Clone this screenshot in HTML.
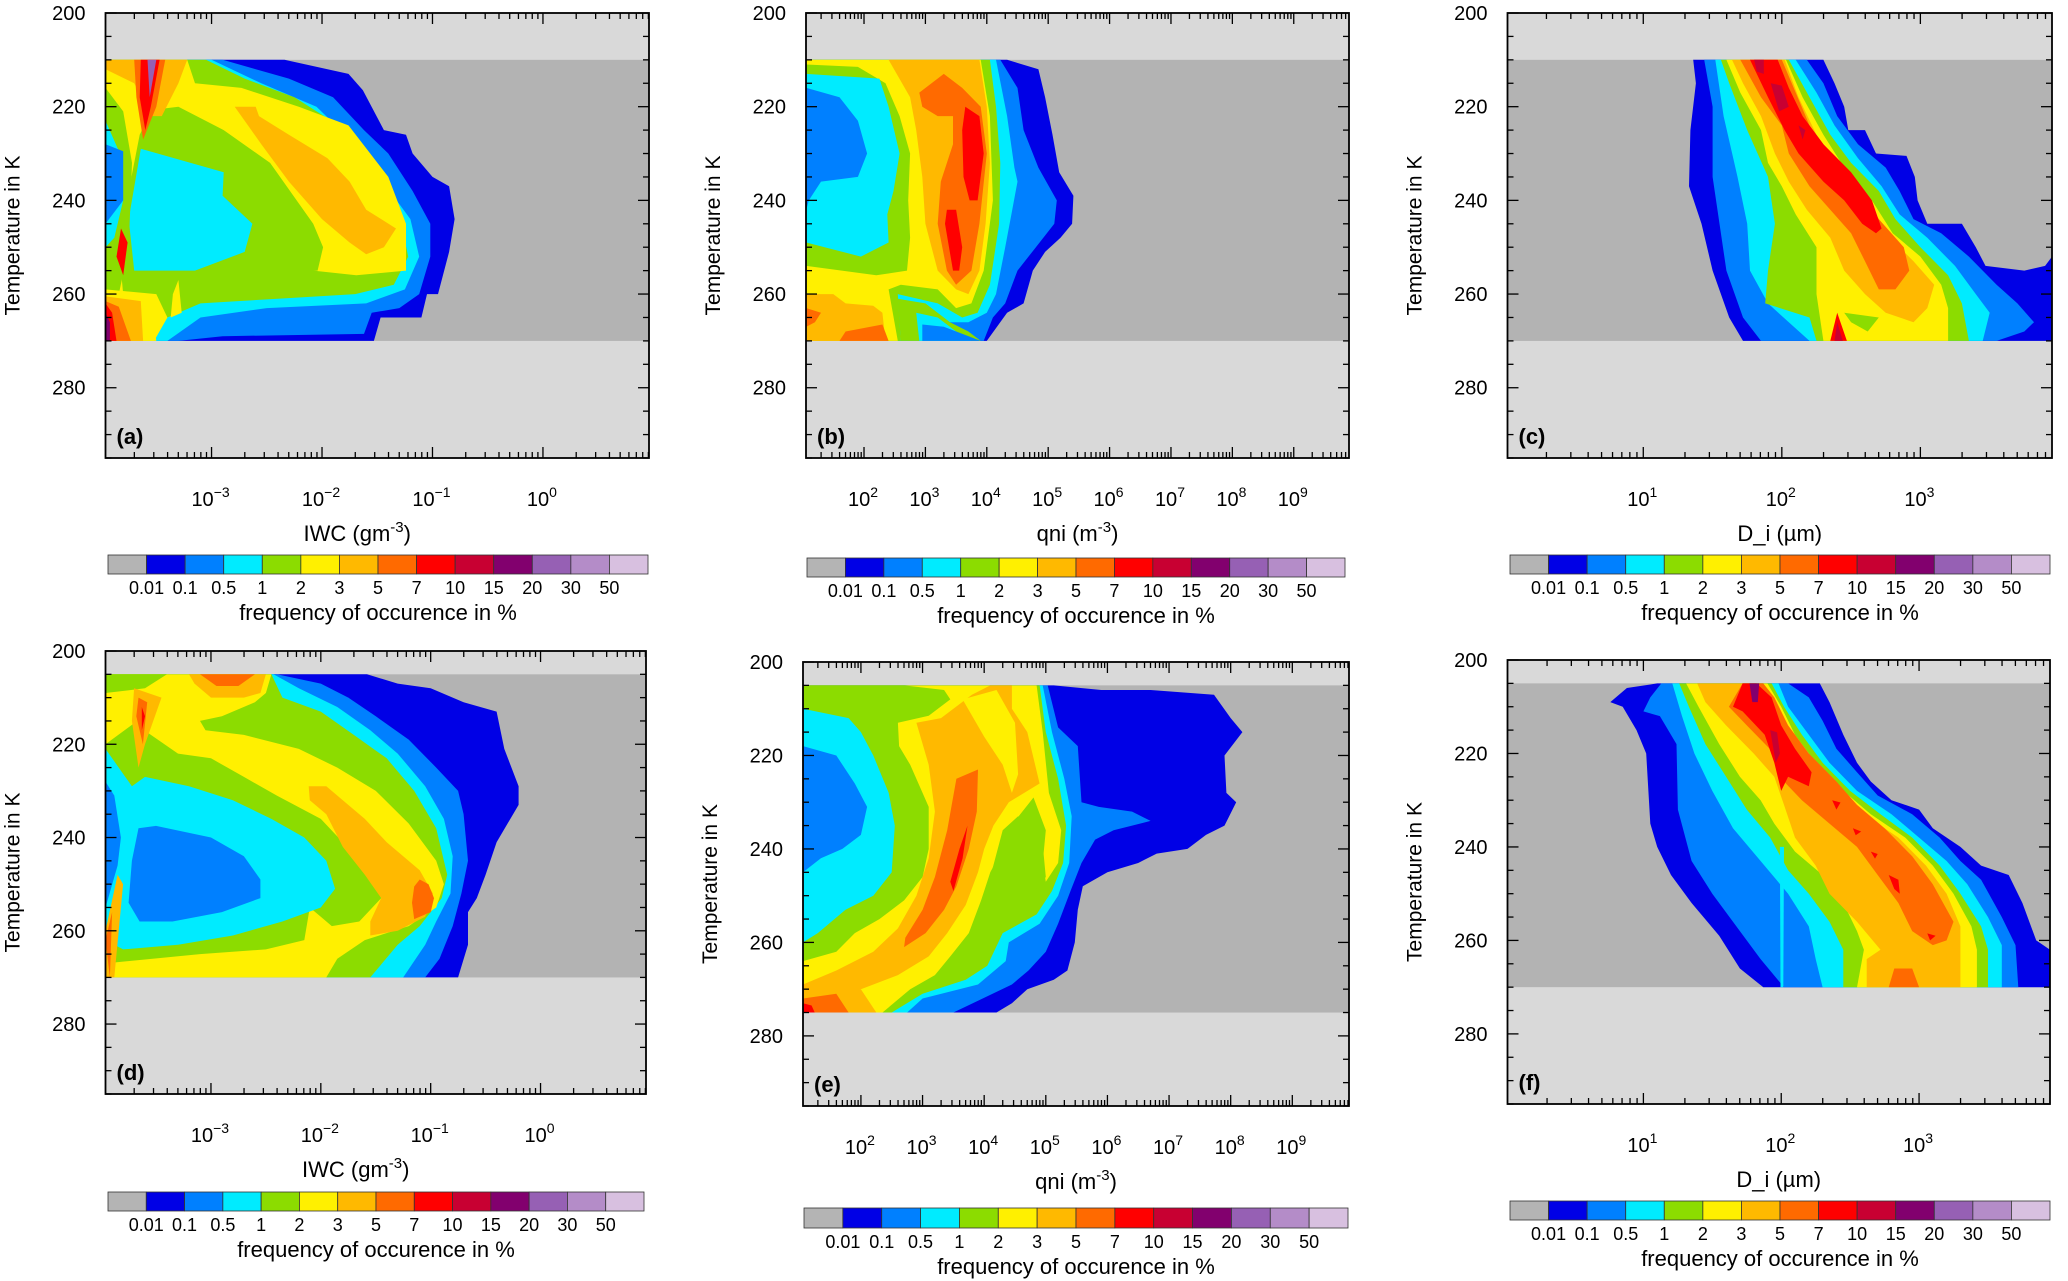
<!DOCTYPE html>
<html><head><meta charset="utf-8"><style>
html,body{margin:0;padding:0;background:#fff;}
svg{display:block;font-family:"Liberation Sans",Arial,sans-serif;}
</style></head><body>
<svg id="chart" width="2068" height="1281" viewBox="0 0 2068 1281" xmlns="http://www.w3.org/2000/svg"><defs id="defs"></defs></svg>
<script>
// ---------- data ----------
const levelColors = ['#b4b4b4','#0000e6','#0080ff','#00ebff','#8cdc00','#fff000','#ffb900','#ff6a00','#ff0000','#c80032','#82006e','#9660b4','#b48cc8','#d8c0e0'];
const levelLabels = ['0.01','0.1','0.5','1','2','3','5','7','10','15','20','30','50'];
const tempTicks = [200,220,240,260,280];
const iwcExps = [-3,-2,-1,0];
const qniExps = [2,3,4,5,6,7,8,9];
const diExps = [1,2,3];

const contoursA = [
 [1,[[-3.96,210],[-2.34,210],[-1.76,213],[-1.63,216.5],[-1.44,225],[-1.24,226],[-1.18,230],[-1.0,235],[-0.85,237],[-0.80,244],[-0.85,251],[-0.95,260],[-1.05,260],[-1.10,265],[-1.47,265],[-1.53,270],[-3.96,270]]],
 [2,[[-3.96,210],[-2.9,210],[-2.3,214],[-1.9,218],[-1.62,225],[-1.4,230],[-1.18,238],[-1.02,245],[-1.02,252],[-1.12,260],[-1.3,263],[-1.55,264],[-1.62,268.5],[-2.9,269],[-3.3,270],[-3.96,270]]],
 [3,[[-3.96,210],[-3.0,210],[-2.55,215],[-2.05,220],[-1.7,228],[-1.45,236],[-1.2,244],[-1.12,252],[-1.25,259],[-1.6,262],[-2.5,263],[-3.1,265],[-3.4,270],[-3.96,270]]],
 [4,[[-3.96,210],[-3.05,210],[-2.7,214],[-2.25,218],[-1.85,224],[-1.55,233],[-1.3,243],[-1.22,252],[-1.35,258],[-1.7,260],[-2.4,261],[-3.1,262],[-3.5,266],[-3.6,270],[-3.96,270]]],
 [5,[[-3.96,210],[-3.22,210],[-3.15,215],[-2.73,216],[-2.21,220],[-1.76,224],[-1.4,235],[-1.24,245],[-1.24,255],[-1.69,256],[-2.08,255],[-2.2,249],[-2.4,243],[-2.75,235],[-3.0,231],[-3.2,227],[-3.4,224],[-3.62,231],[-3.74,237],[-3.84,250],[-3.8,260],[-3.55,262],[-3.5,270],[-3.96,270]]],
 [4,[[-3.54,220.7],[-3.3,220],[-2.89,225],[-2.47,232],[-2.08,245],[-1.99,250],[-2.04,255],[-2.6,256],[-3.0,257.5],[-3.5,259],[-3.8,258],[-3.75,238],[-3.65,226]]],
 [3,[[-3.64,229],[-2.89,234],[-2.9,239],[-2.63,245],[-2.7,251],[-3.15,255],[-3.7,255],[-3.75,244]]],
 [4,[[-3.96,216],[-3.8,221],[-3.72,232],[-3.75,250],[-3.84,260],[-3.96,262]]],
 [3,[[-3.96,223],[-3.83,230],[-3.8,240],[-3.88,248],[-3.96,250]]],
 [2,[[-3.96,228],[-3.8,229.5],[-3.8,240],[-3.96,245]]],
 [6,[[-2.79,220],[-2.6,220],[-2.57,222],[-2.3,226],[-1.95,231],[-1.75,236],[-1.6,242],[-1.33,246],[-1.44,250],[-1.6,251.5],[-1.75,249],[-2.0,244],[-2.3,236],[-2.55,228]]],
 [6,[[-3.96,210],[-3.22,210],[-3.3,215],[-3.45,222],[-3.55,222],[-3.7,215],[-3.96,212]]],
 [7,[[-3.7,210],[-3.42,210],[-3.5,220],[-3.62,227],[-3.68,218]]],
 [8,[[-3.64,210],[-3.47,210],[-3.55,220],[-3.6,225],[-3.65,218]]],
 [11,[[-3.58,210],[-3.5,210],[-3.56,218]]],
 [5,[[-3.96,259],[-3.5,260],[-3.4,265],[-3.52,270],[-3.96,270]]],
 [5,[[-3.35,260],[-3.3,257],[-3.27,264],[-3.37,265]]],
 [8,[[-3.82,246],[-3.76,249],[-3.8,256],[-3.86,252]]],
 [6,[[-3.96,260.5],[-3.64,261.5],[-3.62,270],[-3.96,270]]],
 [7,[[-3.96,261.5],[-3.84,262.7],[-3.73,270],[-3.96,270]]],
 [8,[[-3.96,262],[-3.9,264],[-3.86,270],[-3.96,270]]],
 [10,[[-3.96,264],[-3.92,266],[-3.92,270],[-3.96,270]]]
];
const contoursB = [
 [1,[[1.06,210],[4.33,210],[4.84,212],[4.95,218],[5.07,226],[5.18,234],[5.41,239],[5.39,245],[5.2,248],[4.95,251],[4.75,255],[4.6,262],[4.33,264],[4.0,270],[1.06,270]]],
 [2,[[1.06,210],[4.22,210],[4.5,216],[4.6,225],[4.84,233],[5.14,240],[5.1,245],[4.8,250],[4.5,255],[4.3,262],[4.1,265],[3.95,270],[1.06,270]]],
 [3,[[1.06,210],[4.15,210],[4.33,222],[4.45,233],[4.5,236],[4.4,243],[4.3,250],[4.15,260],[4.0,264],[3.7,266],[2.95,266],[2.9,270],[1.06,270]]],
 [4,[[1.06,210],[4.05,210],[4.15,220],[4.22,232],[4.2,245],[4.05,258],[3.85,264],[3.6,265],[3.2,262],[2.55,260],[2.6,270],[1.06,270]]],
 [5,[[1.06,210],[3.9,210],[4.05,222],[4.1,240],[3.95,255],[3.75,262],[3.5,263],[3.2,259],[2.6,258],[2.4,259],[2.55,270],[1.06,270]]],
 [4,[[1.06,211],[1.9,211.5],[2.35,215],[2.58,222],[2.75,230],[2.72,240],[2.75,248],[2.7,255],[2.2,256],[1.06,254]]],
 [3,[[1.06,213],[2.25,214],[2.4,220],[2.58,230],[2.48,238],[2.38,243],[2.4,249],[1.95,252],[1.06,249]]],
 [2,[[1.06,216],[1.6,218],[1.9,223],[2.05,230],[1.9,235],[1.3,236],[1.1,240],[1.06,242]]],
 [6,[[2.4,210],[3.88,210],[4.0,220],[4.05,232],[3.98,245],[3.88,255],[3.7,260],[3.5,259],[3.2,255],[3.0,245],[2.95,235],[2.85,225],[2.75,218]]],
 [7,[[2.9,217],[3.3,213],[3.6,216],[3.9,220],[4.0,230],[3.88,245],[3.75,255],[3.5,258],[3.35,255],[3.2,245],[3.25,236],[3.45,228],[3.45,222],[3.2,222],[2.95,220]]],
 [8,[[3.65,220],[3.88,222],[3.95,230],[3.85,240],[3.72,240],[3.62,235],[3.6,225]]],
 [8,[[3.35,242],[3.5,242],[3.6,250],[3.55,255],[3.45,255],[3.32,245]]],
 [6,[[1.06,260],[1.5,260],[1.7,262],[2.15,262.5],[2.3,264],[2.35,270],[1.06,270]]],
 [7,[[1.06,263],[1.3,264],[1.2,266],[1.06,267]]],
 [7,[[1.7,268],[2.3,266.5],[2.4,270],[1.6,270]]],
 [4,[[2.55,261],[3.0,262],[3.4,266],[3.7,268],[3.9,270],[2.6,270]]],
 [3,[[2.85,264],[3.2,265],[3.5,268],[3.75,270],[2.9,270]]],
 [2,[[2.95,266.5],[3.3,267],[3.9,270],[2.95,270]]]
];
const contoursC = [
 [1,[[1.36,210],[2.3,210],[2.38,215],[2.45,220],[2.48,225],[2.6,225],[2.68,230],[2.9,230.5],[2.96,235],[2.98,240],[3.05,245],[3.3,245],[3.4,250],[3.47,254],[3.75,255],[3.9,254],[3.95,252],[3.95,270],[1.72,270],[1.62,265],[1.5,255],[1.42,245],[1.33,237],[1.34,225],[1.38,215]]],
 [2,[[1.44,210],[2.18,210],[2.3,215],[2.4,222],[2.55,228],[2.75,233],[2.85,238],[2.95,244],[3.15,247],[3.35,252],[3.55,258],[3.7,262],[3.82,266],[3.75,268],[3.55,270],[1.85,270],[1.72,265],[1.6,255],[1.55,245],[1.5,235],[1.5,220]]],
 [3,[[1.52,210],[2.1,210],[2.25,217],[2.38,224],[2.55,231],[2.72,237],[2.85,243],[3.05,248],[3.25,254],[3.4,260],[3.5,264],[3.45,270],[2.2,270],[2.05,266],[1.9,262],[1.77,255],[1.75,245],[1.68,235],[1.58,222]]],
 [4,[[1.56,210],[2.05,210],[2.2,218],[2.35,226],[2.5,232],[2.7,238],[2.82,244],[3.0,250],[3.2,256],[3.3,262],[3.35,270],[2.25,270],[2.2,265],[1.88,262],[1.9,255],[1.95,245],[1.9,235],[1.75,225],[1.62,215]]],
 [5,[[1.6,210],[2.03,210],[2.15,218],[2.3,226],[2.45,233],[2.65,240],[2.8,247],[3.0,252],[3.15,258],[3.2,263],[3.2,270],[2.3,270],[2.25,260],[2.25,250],[2.1,243],[2.0,237],[1.9,232],[1.85,225],[1.7,217]]],
 [6,[[1.64,210],[2.02,210],[2.12,218],[2.25,226],[2.4,232],[2.6,240],[2.78,248],[2.95,253],[3.1,258],[3.05,263],[2.95,266],[2.75,264],[2.6,260],[2.45,255],[2.35,248],[2.18,242],[2.05,236],[1.95,230],[1.85,222],[1.72,215]]],
 [7,[[1.7,210],[2.0,210],[2.1,217],[2.2,224],[2.35,230],[2.55,237],[2.7,244],[2.88,250],[2.92,255],[2.82,259],[2.7,259],[2.6,253],[2.5,247],[2.35,242],[2.2,237],[2.05,230],[2.0,224],[1.85,218]]],
 [8,[[1.77,210],[1.97,210],[2.05,216],[2.15,222],[2.3,228],[2.5,234],[2.65,240],[2.72,246],[2.68,247],[2.58,245],[2.45,240],[2.3,236],[2.12,230],[2.02,225],[1.9,218]]],
 [9,[[1.8,210],[1.87,210],[1.87,213],[1.82,212.5]]],
 [9,[[1.92,215],[2.0,215.5],[2.05,220],[1.98,221]]],
 [9,[[2.12,224],[2.17,225],[2.15,227]]],
 [4,[[2.45,264],[2.7,265],[2.62,268],[2.5,266]]],
 [8,[[2.35,270],[2.4,264],[2.47,270]]],
 [9,[[2.38,270],[2.4,266],[2.44,270]]]
];
const contoursD = [
 [1,[[-3.96,205],[-1.58,205],[-1.3,207],[-1.0,208],[-0.7,211],[-0.4,213],[-0.33,221],[-0.2,229],[-0.2,233],[-0.4,241],[-0.5,248],[-0.58,253],[-0.66,256],[-0.66,263],[-0.75,270],[-3.96,270]]],
 [2,[[-3.96,205],[-2.4,205],[-2.0,207],[-1.75,210],[-1.5,214],[-1.2,219],[-0.95,225],[-0.75,230],[-0.7,235],[-0.66,245],[-0.72,252],[-0.8,259],[-0.92,266],[-1.05,270],[-3.96,270]]],
 [3,[[-3.96,205],[-2.43,205],[-2.2,208],[-1.85,212],[-1.55,217],[-1.3,222],[-1.05,229],[-0.88,236],[-0.8,244],[-0.82,252],[-0.95,258],[-1.05,263],[-1.25,270],[-3.96,270]]],
 [4,[[-3.96,205],[-2.45,205],[-2.35,210],[-2.0,213],[-1.7,218],[-1.4,223],[-1.15,230],[-0.95,238],[-0.85,248],[-0.9,253],[-1.1,259],[-1.3,263],[-1.55,270],[-3.96,270]]],
 [5,[[-3.96,205],[-2.45,205],[-2.5,209],[-2.6,211],[-2.9,214],[-3.1,215],[-3.05,217],[-2.7,218],[-2.2,221],[-1.85,225],[-1.5,230],[-1.2,237],[-0.95,245],[-0.88,250],[-0.95,255],[-1.2,259],[-1.6,262],[-1.85,266],[-1.95,270],[-3.96,270]]],
 [4,[[-3.96,220],[-3.7,215.5],[-3.3,222],[-3.0,223],[-2.7,227],[-2.4,231],[-2.0,236],[-1.8,241],[-1.5,247],[-1.45,253],[-1.65,258],[-1.9,259],[-2.0,257],[-2.1,255],[-2.15,262],[-2.5,264],[-3.1,265],[-3.96,267]]],
 [4,[[-3.96,205],[-3.4,205],[-3.6,208],[-3.96,209]]],
 [3,[[-3.96,221],[-3.72,229],[-3.6,227],[-3.2,229],[-2.8,232],[-2.45,236],[-2.15,240],[-1.95,245],[-1.87,251],[-2.0,255],[-2.35,258],[-2.8,261],[-3.3,263],[-3.8,264],[-3.96,262]]],
 [2,[[-3.66,238],[-3.5,237.5],[-3.0,240],[-2.7,244],[-2.55,249],[-2.55,253],[-2.9,256],[-3.35,258],[-3.65,258],[-3.75,254],[-3.72,245]]],
 [2,[[-3.96,228],[-3.88,231],[-3.82,240],[-3.85,246],[-3.96,255]]],
 [6,[[-2.11,229],[-1.95,229],[-1.8,232],[-1.6,236],[-1.4,241],[-1.1,247],[-0.98,252],[-1.05,257],[-1.3,260],[-1.55,261],[-1.55,258],[-1.45,253],[-1.6,248],[-1.8,242],[-1.95,235],[-2.1,232]]],
 [7,[[-1.1,249],[-1.02,250],[-0.97,253],[-1.0,256],[-1.15,257.5],[-1.17,254],[-1.15,250.5]]],
 [6,[[-3.2,205],[-2.5,205],[-2.55,209],[-2.7,210],[-3.0,210],[-3.15,207]]],
 [7,[[-3.1,205],[-2.6,205],[-2.75,207.5],[-2.95,207.5]]],
 [6,[[-3.7,208],[-3.45,210],[-3.6,220],[-3.66,225],[-3.72,215]]],
 [7,[[-3.66,210],[-3.58,211],[-3.62,220],[-3.68,214]]],
 [8,[[-3.63,212],[-3.6,214],[-3.63,217]]],
 [6,[[-3.96,260],[-3.85,248],[-3.8,250],[-3.88,270],[-3.96,270]]],
 [7,[[-3.96,262],[-3.9,256],[-3.92,270]]]
];
const contoursE = [
 [1,[[1.06,205],[5.13,205],[5.9,206],[6.7,206],[7.73,207],[8.0,212],[8.19,215],[7.9,220],[7.93,228],[8.09,230],[7.9,235],[7.6,237],[7.3,240],[6.8,241],[6.5,243],[6.0,245],[5.6,248],[5.52,253],[5.47,260],[5.35,266],[5.13,268],[4.7,270],[4.45,273],[4.2,275],[1.06,275]]],
 [2,[[1.06,205],[5.03,205],[5.2,214],[5.52,218],[5.58,230],[5.86,231],[6.4,232],[6.7,234],[6.1,236],[5.8,238],[5.58,243],[5.4,249],[5.2,256],[5.0,262],[4.72,266],[4.45,269],[3.9,272.5],[3.5,275],[1.06,275]]],
 [3,[[1.06,205],[4.95,205],[5.1,215],[5.3,225],[5.42,233],[5.38,243],[5.2,250],[4.9,256],[4.4,260],[4.35,264],[3.9,269],[3.0,272],[2.75,275],[1.06,275]]],
 [4,[[1.06,205],[4.9,205],[5.0,215],[5.2,225],[5.33,235],[5.28,243],[5.1,249],[4.85,254],[4.3,258],[4.05,265],[3.7,268],[3.0,271],[2.5,275],[1.06,275]]],
 [5,[[1.06,205],[4.85,205],[4.95,215],[5.05,228],[5.25,236],[5.2,243],[5.0,247],[4.95,243],[5.0,236],[4.8,229],[4.5,234],[4.3,240],[4.1,245],[3.95,251],[3.75,258],[3.45,263],[3.2,267],[2.8,270],[2.35,275],[1.06,275]]],
 [4,[[1.06,205],[2.7,205],[3.35,206],[3.45,208],[3.1,211.5],[2.6,213],[2.62,218],[2.8,222],[3.1,231],[3.1,240],[3.0,246],[2.7,251],[2.3,255],[1.9,258],[1.6,262],[1.06,264]]],
 [3,[[1.06,210],[1.8,212],[2.0,215],[2.2,220],[2.45,228],[2.55,235],[2.5,245],[2.2,250],[1.75,253],[1.3,258],[1.06,260]]],
 [2,[[1.06,218],[1.6,220],[1.9,226],[2.1,231],[2.0,237],[1.7,240],[1.35,242],[1.06,245]]],
 [6,[[2.9,213],[3.3,212],[3.8,207],[4.1,205],[4.45,205],[4.45,210],[4.7,215],[4.9,226],[4.4,230],[4.15,235],[4.0,240],[3.9,245],[3.7,252],[3.4,258],[3.1,263],[2.6,267],[2.0,270],[1.06,272],[1.06,269],[1.6,266],[2.2,262],[2.6,257],[2.9,250],[3.1,242],[3.2,232],[3.1,222]]],
 [6,[[1.06,270],[2.0,270],[2.25,275],[1.06,275]]],
 [5,[[3.65,208],[4.2,206],[4.5,213],[4.55,224],[4.45,228],[4.3,222],[4.0,216]]],
 [4,[[4.3,236],[4.55,233],[4.95,239],[5.0,246],[4.75,250],[4.6,248],[4.4,254],[4.2,258],[3.9,259],[3.95,252],[4.1,246]]],
 [7,[[3.55,225],[3.9,223],[3.88,232],[3.75,240],[3.55,248],[3.35,253],[3.05,258],[2.7,261],[2.72,259],[3.0,253],[3.2,246],[3.4,236]]],
 [8,[[3.73,235],[3.65,242],[3.5,249],[3.45,247],[3.6,240]]],
 [7,[[1.06,272],[1.6,271],[1.8,275],[1.06,275]]],
 [8,[[1.06,273],[1.2,273.5],[1.25,275],[1.06,275]]]
];
const contoursF = [
 [1,[[1.1,205],[2.28,205],[2.35,209],[2.45,216],[2.55,222],[2.65,226],[2.8,230],[3.0,232],[3.1,236],[3.3,240],[3.45,244],[3.65,246],[3.75,252],[3.85,260],[3.95,262],[3.95,270],[1.87,270],[1.7,266],[1.55,259],[1.35,252],[1.2,246],[1.1,240],[1.05,235],[1.02,220],[0.95,215],[0.85,210],[0.76,209],[0.88,206]]],
 [2,[[1.13,205],[2.05,205],[2.2,208],[2.3,213],[2.4,219],[2.55,224],[2.7,229],[2.95,233],[3.15,238],[3.3,243],[3.45,247],[3.6,255],[3.7,261],[3.72,270],[2.02,270],[1.85,264],[1.7,258],[1.5,250],[1.35,243],[1.25,232],[1.24,218],[1.12,212],[1.0,211],[1.05,208]]],
 [3,[[1.21,205],[1.98,205],[2.05,210],[2.2,216],[2.35,222],[2.55,228],[2.8,233],[3.0,238],[3.2,243],[3.35,248],[3.5,255],[3.6,261],[3.6,270],[2.3,270],[2.25,264],[2.2,257],[2.05,250],[1.85,243],[1.65,236],[1.5,228],[1.37,220],[1.28,212]]],
 [4,[[1.26,205],[1.93,205],[2.02,210],[2.15,216],[2.3,222],[2.5,228],[2.72,233],[2.95,238],[3.15,244],[3.3,250],[3.45,257],[3.5,262],[3.5,270],[2.45,270],[2.45,262],[2.35,256],[2.2,250],[2.05,245],[1.92,238],[1.75,232],[1.6,225],[1.45,218],[1.33,210]]],
 [5,[[1.31,205],[1.9,205],[2.0,210],[2.1,216],[2.25,222],[2.45,228],[2.65,233],[2.9,238],[3.1,244],[3.25,250],[3.38,257],[3.42,262],[3.42,270],[2.55,270],[2.6,262],[2.55,258],[2.45,252],[2.3,246],[2.1,241],[1.95,235],[1.85,230],[1.7,225],[1.55,218],[1.4,210]]],
 [6,[[1.39,205],[1.87,205],[1.95,210],[2.05,216],[2.2,222],[2.4,228],[2.6,233],[2.85,238],[3.05,244],[3.2,250],[3.3,257],[3.3,262],[3.3,270],[2.62,270],[2.62,264],[2.72,262],[2.55,256],[2.35,250],[2.25,244],[2.1,238],[2.02,231],[1.95,225],[1.8,220],[1.6,214],[1.45,209]]],
 [7,[[1.72,205],[1.87,205],[1.95,208],[2.05,214],[2.2,220],[2.4,226],[2.55,231],[2.75,236],[2.95,242],[3.1,248],[3.25,256],[3.2,260],[3.1,261],[2.95,258],[2.85,252],[2.7,246],[2.55,240],[2.35,235],[2.15,230],[2.02,226],[1.95,220],[1.75,214],[1.62,210]]],
 [8,[[1.72,205],[1.82,205],[1.93,208],[2.0,214],[2.1,219],[2.22,224],[2.2,227],[2.05,225],[2.0,228],[1.95,222],[1.88,216],[1.72,211],[1.65,210]]],
 [8,[[2.37,230],[2.43,230.5],[2.4,232]]],
 [8,[[2.52,236],[2.58,236.7],[2.54,237.5]]],
 [8,[[2.65,241],[2.7,241.5],[2.68,242.5]]],
 [8,[[2.78,246],[2.85,247],[2.86,250],[2.82,249]]],
 [8,[[3.06,258.5],[3.12,259],[3.08,260]]],
 [9,[[1.92,215],[1.97,215.5],[1.99,220],[1.96,222]]],
 [10,[[1.77,205],[1.84,205],[1.83,209],[1.79,209]]],
 [3,[[1.99,240],[2.02,240],[2.015,270],[1.995,270]]],
 [7,[[2.82,266],[2.95,266],[3.0,270],[2.78,270]]]
];

// ---------- layout (geometry only) ----------
const panels = [
 {id:'a',x0:105.5,x1:649,y0:13,y1:458,xmin:-3.96,xmax:0.96,dTop:210,dBot:270,exps:iwcExps,xt:'iwc',cont:contoursA,bar:[108,648,555,574]},
 {id:'b',x0:806,x1:1349,y0:13,y1:458,xmin:1.055,xmax:9.90,dTop:210,dBot:270,exps:qniExps,xt:'qni',cont:contoursB,bar:[807,1345,558,577]},
 {id:'c',x0:1507.5,x1:2052,y0:13,y1:458,xmin:0.02,xmax:3.95,dTop:210,dBot:270,exps:diExps,xt:'di',cont:contoursC,bar:[1510,2050,555,574]},
 {id:'d',x0:105.5,x1:646,y0:651,y1:1094,xmin:-3.96,xmax:0.96,dTop:205,dBot:270,exps:iwcExps,xt:'iwc',cont:contoursD,bar:[108,644,1192,1211]},
 {id:'e',x0:803,x1:1349,y0:662,y1:1106,xmin:1.06,xmax:9.92,dTop:205,dBot:275,exps:qniExps,xt:'qni',cont:contoursE,bar:[804,1348,1208,1228]},
 {id:'f',x0:1507.5,x1:2050,y0:660,y1:1104,xmin:0.014,xmax:3.95,dTop:205,dBot:270,exps:diExps,xt:'di',cont:contoursF,bar:[1510,2050,1201,1220]}
];
const NS='http://www.w3.org/2000/svg';
const svg=document.getElementById('chart');
const defs=document.getElementById('defs');
function el(tag,parent,attrs){const e=document.createElementNS(NS,tag);for(const k in attrs)e.setAttribute(k,attrs[k]);parent.appendChild(e);return e;}

panels.forEach(p=>{
  const xs=v=>p.x0+(v-p.xmin)/(p.xmax-p.xmin)*(p.x1-p.x0);
  const ys=T=>p.y0+(T-200)/95*(p.y1-p.y0);
  const g=el('g',svg,{});
  
  
  const cp=el('clipPath',defs,{id:'clip-'+p.id});
  el('rect',cp,{x:p.x0,y:p.y0,width:p.x1-p.x0,height:p.y1-p.y0});
  const bg=el('rect',g,{x:p.x0,y:p.y0,width:p.x1-p.x0,height:p.y1-p.y0,fill:'#d9d9d9'});
  
  
  const dk=el('rect',g,{x:p.x0,y:ys(p.dTop),width:p.x1-p.x0,height:ys(p.dBot)-ys(p.dTop),fill:'#b3b3b3'});
  
  
  const cg=el('g',g,{'clip-path':'url(#clip-'+p.id+')'});
  p.cont.forEach(c=>{
    const pts=c[1].map(q=>xs(q[0]).toFixed(1)+','+ys(Math.max(p.dTop,Math.min(p.dBot,q[1]))).toFixed(1)).join(' ');
    const poly=el('polygon',cg,{points:pts,fill:levelColors[c[0]]});
    
    
  });
  const tg=el('g',g,{stroke:'#000','stroke-width':1.3});
  for(let T=200;T<=295;T+=5){
    const L=(T%20===0)?11:6;
    const y=ys(T);
    el('line',tg,{x1:p.x0,y1:y,x2:p.x0+L,y2:y});
    el('line',tg,{x1:p.x1,y1:y,x2:p.x1-L,y2:y});
  }
  for(let d=Math.floor(p.xmin);d<=Math.ceil(p.xmax);d++){
    for(let m=1;m<=9;m++){
      const v=d+Math.log10(m);
      if(v<p.xmin||v>p.xmax)continue;
      const x=xs(v),L=m===1?11:6;
      el('line',tg,{x1:x,y1:p.y1,x2:x,y2:p.y1-L});
      el('line',tg,{x1:x,y1:p.y0,x2:x,y2:p.y0+L});
    }
  }
  const fr=el('rect',g,{x:p.x0,y:p.y0,width:p.x1-p.x0,height:p.y1-p.y0,fill:'none',stroke:'#000','stroke-width':1.8});
  
  
  tempTicks.forEach(T=>{
    const t=el('text',g,{x:p.x0-20,y:ys(T)+7,'font-size':20,'text-anchor':'end'});
    t.textContent=T;
    
    
  });
  const yt=el('text',g,{x:0,y:0,'font-size':21,'text-anchor':'middle',transform:`translate(${p.x0-86},${(p.y0+p.y1)/2}) rotate(-90)`});
  yt.textContent='Temperature in K';
  
  
  p.exps.forEach(ex=>{
    const t=el('text',g,{x:xs(ex)-1,y:p.y1+48,'font-size':20,'text-anchor':'middle'});
    const a=el('tspan',t,{});a.textContent='10';
    const b=el('tspan',t,{dy:-9,'font-size':14});b.textContent=String(ex).replace('-','\u2212');
    
    
  });
  const xt=el('text',g,{x:(p.x0+p.x1)/2,y:p.y1+83,'font-size':22,'text-anchor':'middle'});
  if(p.xt==='iwc'){xt.setAttribute('x',(p.x0+p.x1)/2-20);const a=el('tspan',xt,{});a.textContent='IWC  (gm';const b=el('tspan',xt,{dy:-9,'font-size':15});b.textContent='-3';const c=el('tspan',xt,{dy:9});c.textContent=')';}
  else if(p.xt==='qni'){const a=el('tspan',xt,{});a.textContent='qni (m';const b=el('tspan',xt,{dy:-9,'font-size':15});b.textContent='-3';const c=el('tspan',xt,{dy:9});c.textContent=')';}
  else {xt.textContent='D_i (\u00b5m)';}
  
  
  const pl=el('text',g,{x:p.x0+11,y:p.y1-14,'font-size':22,'font-weight':'bold'});
  pl.textContent='('+p.id+')';
  
  
  const cb=el('g',svg,{});
  
  
  const [bx0,bx1,by0,by1]=p.bar;const bw=(bx1-bx0)/levelColors.length;
  levelColors.forEach((col,i)=>{
    const r=el('rect',cb,{x:bx0+i*bw,y:by0,width:bw,height:by1-by0,fill:col,stroke:'#333','stroke-width':0.8});
    
    
  });
  levelLabels.forEach((lb,i)=>{
    const t=el('text',cb,{x:bx0+(i+1)*bw,y:by1+20,'font-size':18,'text-anchor':'middle'});
    t.textContent=lb;
    
    
  });
  const ct=el('text',cb,{x:(bx0+bx1)/2,y:by1+46,'font-size':22,'text-anchor':'middle'});
  ct.textContent='frequency of occurence in %';
  
  
});
</script>
</body></html>
